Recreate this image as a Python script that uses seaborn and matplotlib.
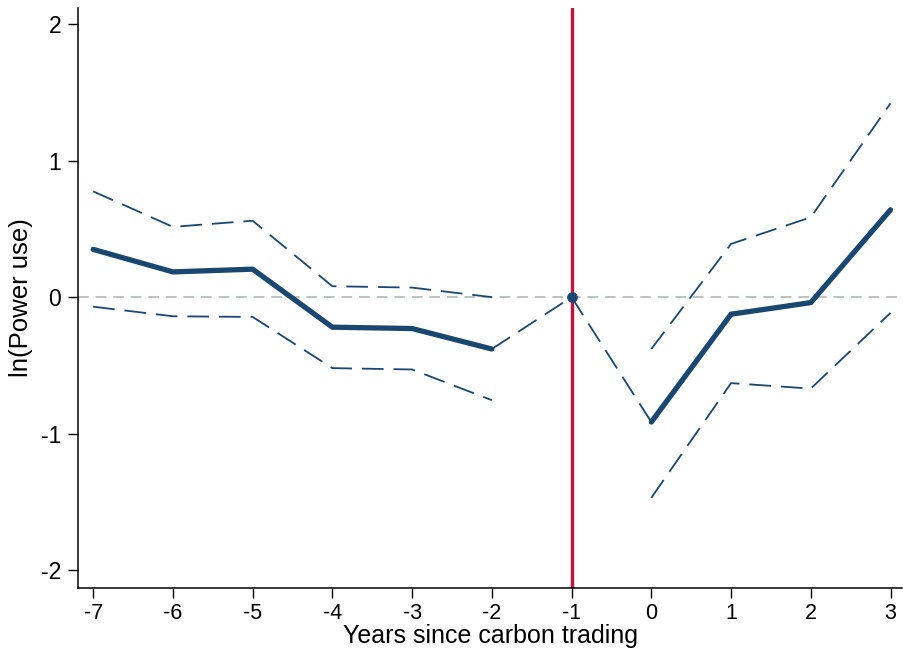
import pandas as pd
import matplotlib.pyplot as plt
import seaborn as sns

# event-study estimates
pre_years = [-7, -6, -5, -4, -3, -2]
pre_coef = [0.35, 0.185, 0.205, -0.22, -0.23, -0.38]
pre_upper = [0.775, 0.515, 0.56, 0.08, 0.07, 0.0]
pre_lower = [-0.07, -0.14, -0.145, -0.52, -0.53, -0.755]

post_years = [0, 1, 2, 3]
post_coef = [-0.915, -0.125, -0.04, 0.64]
post_upper = [-0.38, 0.39, 0.585, 1.42]
post_lower = [-1.47, -0.63, -0.67, -0.115]

# base year (omitted) and the link segments
link_years = [-2, -1, 0]
link_coef = [-0.38, 0.0, -0.915]
base_year = -1

x_ticks = [-7, -6, -5, -4, -3, -2, -1, 0, 1, 2, 3]
y_ticks = [-2, -1, 0, 1, 2]

navy = '#1a476f'
red = '#c4123f'

sns.set_style("ticks")
plt.rcParams['font.family'] = ['Liberation Sans', 'DejaVu Sans']
plt.rcParams['text.color'] = 'black'
plt.rcParams['axes.labelcolor'] = 'black'
plt.rcParams['xtick.labelcolor'] = 'black'
plt.rcParams['ytick.labelcolor'] = 'black'

fig = plt.figure(figsize=(9.04, 6.51), dpi=100)
ax = fig.add_axes([0.0863, 0.097, 0.912, 0.891])

ax.axhline(0, color='#a8b3ad', lw=1.1, dashes=(7, 4.5), zorder=1)
ax.axvline(base_year, color=red, lw=2.4, zorder=2)

pre = pd.DataFrame({'year': pre_years, 'coef': pre_coef, 'up': pre_upper, 'lo': pre_lower})
post = pd.DataFrame({'year': post_years, 'coef': post_coef, 'up': post_upper, 'lo': post_lower})

for d in (pre, post):
    for col in ('up', 'lo'):
        sns.lineplot(data=d, x='year', y=col, color=navy, lw=1.3, sort=False,
                     estimator=None, ax=ax)
        ax.lines[-1].set_dashes((12, 5.5))
    sns.lineplot(data=d, x='year', y='coef', color=navy, lw=3.8, sort=False,
                 estimator=None, ax=ax)
    ax.lines[-1].set_solid_joinstyle('miter')

sns.lineplot(x=link_years, y=link_coef, color=navy, lw=1.3, sort=False,
             estimator=None, ax=ax)
ax.lines[-1].set_dashes((12, 5.5))
sns.scatterplot(x=[base_year], y=[0.0], color=navy, s=50, edgecolor=navy,
                zorder=5, ax=ax)

ax.set_xlim(-7.19, 3.15)
ax.set_ylim(-2.13, 2.12)
ax.set_xticks(x_ticks)
ax.set_yticks(y_ticks)
ax.set_xticklabels([str(v) for v in x_ticks], fontsize=15.5)
ax.set_yticklabels([str(v) for v in y_ticks], fontsize=16.5)
ax.tick_params(axis='both', direction='out', length=7, width=1, color='black')
ax.tick_params(axis='y', pad=5)
ax.tick_params(axis='x', pad=4)
ax.set_xlabel('Years since carbon trading', fontsize=18, labelpad=0)
ax.set_ylabel('ln(Power use)', fontsize=18.5, labelpad=6)
for s in ('left', 'bottom'):
    ax.spines[s].set_linewidth(1.1)
    ax.spines[s].set_color('black')
sns.despine(ax=ax)

plt.savefig('out.png', dpi=100)
